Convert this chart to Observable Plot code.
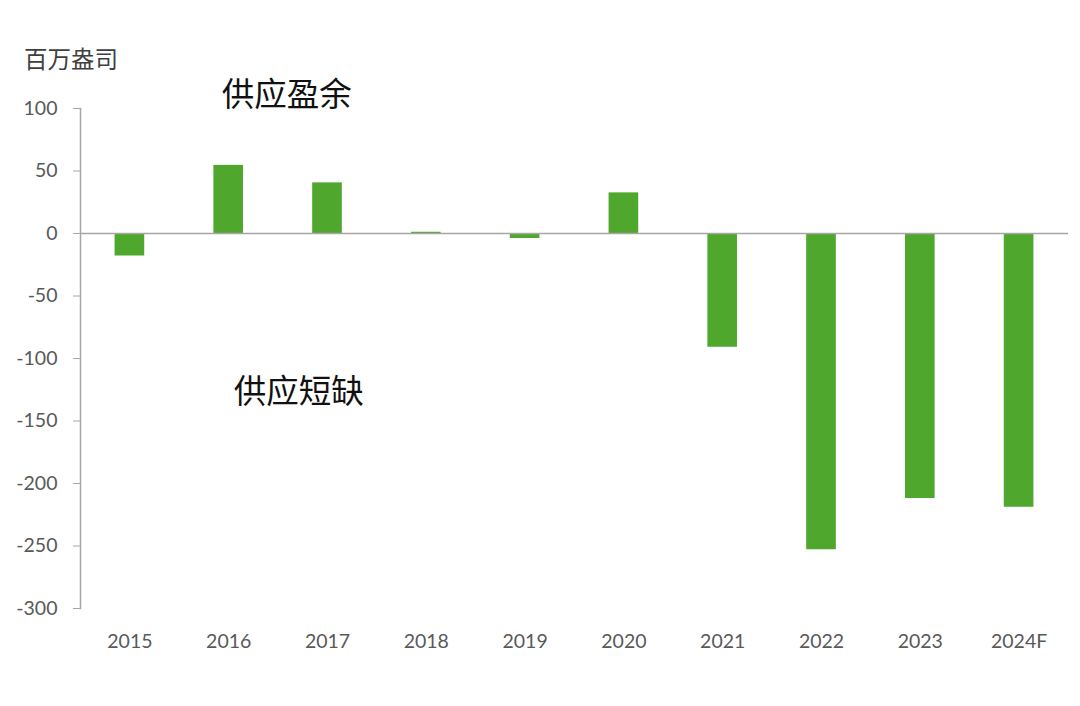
<!DOCTYPE html>
<html>
<head>
<meta charset="utf-8">
<script src="https://cdn.jsdelivr.net/npm/d3@7"></script>
<script src="https://cdn.jsdelivr.net/npm/@observablehq/plot@0.6"></script>
<style>
  html, body { margin: 0; padding: 0; background: #ffffff; }
  #wrap { position: relative; width: 1080px; height: 706px; overflow: hidden; }
  #unit { position: absolute; left: 24px; top: 44px; font-family: "Noto Sans CJK SC", sans-serif; font-size: 23.5px; color: #404040; line-height: 1.2; }
  #chart { position: absolute; left: 0; top: 0; }
</style>
</head>
<body>
<div id="wrap">
  <div id="chart"></div>
  <div id="unit">百万盎司</div>
</div>
<script>
const years = ["2015", "2016", "2017", "2018", "2019", "2020", "2021", "2022", "2023", "2024F"];
const balance = [-18, 54.5, 40.5, 1, -4, 32.5, -91, -253, -212, -219];
const yTicks = [100, 50, 0, -50, -100, -150, -200, -250, -300];
const surplusLabel = ["供应盈余"];
const deficitLabel = ["供应短缺"];
const annoYear = "2016";
const surplusValue = 110.5;
const deficitValue = -127;

const data = years.map((year, i) => ({year, value: balance[i]}));

const gray = "#a6a6a6";
const textGray = "#595959";
const annoFont = "'Noto Sans CJK SC', sans-serif";

const plot = Plot.plot({
  width: 1080,
  height: 706,
  marginLeft: 80,
  marginRight: 12,
  marginTop: 108,
  marginBottom: 98,
  style: { fontFamily: "Lato, 'Open Sans', sans-serif", background: "#ffffff", overflow: "visible" },
  x: { domain: years, paddingInner: 0.7, paddingOuter: 0.35, round: false, label: null },
  y: { domain: [-300, 100], label: null },
  marks: [
    Plot.barY(data, { x: "year", y: "value", fill: "#50a72e" }),
    Plot.ruleY([0], { stroke: gray, strokeWidth: 1.5 }),
    Plot.frame({ anchor: "left", stroke: gray, strokeWidth: 1.5 }),
    Plot.axisY({ ticks: yTicks, tickSize: 7, tickPadding: 16, stroke: gray, fontSize: 19.5, color: textGray, label: null, tickFormat: d => String(d) }),
    Plot.axisX({ tickSize: 0, tickPadding: 26, fontSize: 19.5, color: textGray, label: null }),
    Plot.text(surplusLabel, { x: () => annoYear, y: () => surplusValue, text: d => d, dx: 58, fontSize: 32.5, fill: "#111111", fontFamily: annoFont, textAnchor: "middle" }),
    Plot.text(deficitLabel, { x: () => annoYear, y: () => deficitValue, text: d => d, dx: 70, fontSize: 32.5, fill: "#111111", fontFamily: annoFont, textAnchor: "middle" })
  ]
});
document.getElementById("chart").appendChild(plot);
</script>
</body>
</html>
